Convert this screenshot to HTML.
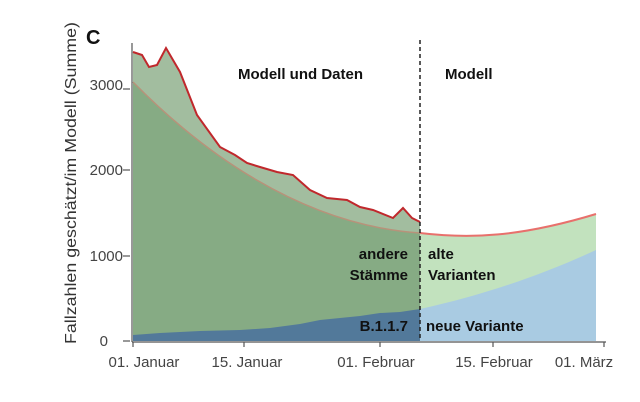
<!DOCTYPE html>
<html><head><meta charset="utf-8"><style>
html,body{margin:0;padding:0;background:#fff;}
svg{display:block;font-family:"Liberation Sans",sans-serif;}
</style></head><body>
<svg width="640" height="402" viewBox="0 0 640 402">
<path fill="#a2bd9f" d="M133,52 L142,55 149,67 157,65 166,48 180,72 197,115 220,147 235,155 247,163 260,167 277,172 293,175 310,190 327,198 347,200 360,207 373,210 393,218 403,208 412,218 420,222 L420,233 C300,225 200,150 133,82 Z"/>
<path fill="#86ab84" d="M133,82 C200,150 300,225 420,233 L420,341 133,341 Z"/>
<path fill="#c2e2be" d="M420,233 C470,239 520,237 596,214 L596,341 420,341 Z"/>
<polygon fill="#52799a" points="133,335 160,333 200,331 240,330 270,328 300,324 320,320 340,318 360,316 380,313 400,312 420,309 420,341 133,341"/>
<path fill="#a9cbe2" d="M420,309 C480,296 540,276 596,250 L596,341 420,341 Z"/>
<path fill="none" stroke="#b8927a" stroke-width="1.5" d="M133,82 C200,150 300,225 420,233"/>
<path fill="none" stroke="#e8706c" stroke-width="2" d="M420,233 C470,239 520,237 596,214"/>
<polyline fill="none" stroke="#c0282c" stroke-width="2" points="133,52 142,55 149,67 157,65 166,48 180,72 197,115 220,147 235,155 247,163 260,167 277,172 293,175 310,190 327,198 347,200 360,207 373,210 393,218 403,208 412,218 420,222"/>
<line x1="420" y1="40" x2="420" y2="341" stroke="#222" stroke-width="1.5" stroke-dasharray="4,3"/>
<line x1="132" y1="43" x2="132" y2="342" stroke="#555" stroke-width="1.2"/>
<line x1="132" y1="342" x2="606" y2="342" stroke="#555" stroke-width="1.2"/>
<g stroke="#555" stroke-width="1.2">
<line x1="133" y1="342" x2="133" y2="347"/><line x1="244" y1="342" x2="244" y2="347"/><line x1="380" y1="342" x2="380" y2="347"/><line x1="493" y1="342" x2="493" y2="347"/><line x1="604" y1="342" x2="604" y2="347"/>
<line x1="123" y1="341" x2="130" y2="341"/><line x1="123" y1="256" x2="130" y2="256"/><line x1="123" y1="170" x2="130" y2="170"/><line x1="123" y1="89" x2="130" y2="89"/>
</g>
<g font-size="15" fill="#444" text-anchor="end">
<text x="108" y="346">0</text><text x="123" y="261">1000</text><text x="123" y="175">2000</text><text x="123" y="90">3000</text>
</g>
<g font-size="15" fill="#444" text-anchor="middle">
<text x="144" y="367">01. Januar</text><text x="247" y="367">15. Januar</text><text x="376" y="367">01. Februar</text><text x="494" y="367">15. Februar</text><text x="584" y="367">01. März</text>
</g>
<text transform="translate(76,183) rotate(-90)" font-size="16" fill="#333" text-anchor="middle" textLength="322" lengthAdjust="spacingAndGlyphs">Fallzahlen geschätzt/im Modell (Summe)</text>
<text x="86" y="44" font-size="20" font-weight="bold" fill="#111">C</text>
<g font-size="15" font-weight="bold" fill="#111">
<text x="238" y="79">Modell und Daten</text>
<text x="445" y="79">Modell</text>
<text x="408" y="259" text-anchor="end">andere</text>
<text x="408" y="280" text-anchor="end">Stämme</text>
<text x="428" y="259">alte</text>
<text x="428" y="280">Varianten</text>
<text x="408" y="331" text-anchor="end">B.1.1.7</text>
<text x="426" y="331">neue Variante</text>
</g>
</svg>
</body></html>
